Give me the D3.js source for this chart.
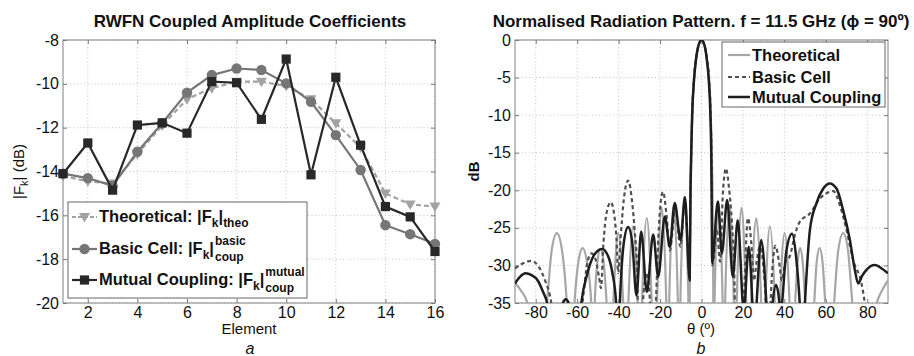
<!DOCTYPE html>
<html>
<head>
<meta charset="utf-8">
<script src="https://cdn.jsdelivr.net/npm/d3@7"></script>
<style>
body { margin: 0; background: #fff; }
svg { font-family: Arial, "Liberation Sans", Helvetica, sans-serif; }
.grid { stroke: #c4c4c4; stroke-width: 1; stroke-dasharray: 1,2.5; }
.tick text { font-size: 16px; fill: #111; }
.tick line { stroke: #777; }
</style>
</head>
<body>
<svg id="chart" width="914" height="356"></svg>
<script>
// ---- panel a : coupled amplitude coefficients (dB) ----
var elements = [1, 2, 3, 4, 5, 6, 7, 8, 9, 10, 11, 12, 13, 14, 15, 16];
var theoCoef   = [-14.2, -14.45, -14.55, -13.2, -11.9, -10.7, -10.2, -9.9, -9.9, -10.1, -10.7, -11.8, -12.9, -15.0, -15.5, -15.6];
var basicCoef  = [-14.1, -14.3, -14.65, -13.1, -11.8, -10.4, -9.6, -9.3, -9.37, -9.98, -10.82, -12.34, -13.93, -16.45, -16.86, -17.3];
var mutualCoef = [-14.1, -12.7, -14.85, -11.88, -11.78, -12.25, -9.9, -9.95, -11.62, -8.87, -14.15, -9.7, -12.8, -15.6, -16.07, -17.65];
var elementTicks = [2, 4, 6, 8, 10, 12, 14, 16];
var coefTicks = [-20, -18, -16, -14, -12, -10, -8];

// ---- panel b : radiation pattern, [theta (deg), dB] ----
var thetaTicks = [-80, -60, -40, -20, 0, 20, 40, 60, 80];
var dbTicks = [-35, -30, -25, -20, -15, -10, -5, 0];

var theoPattern = [
  [-90,-32.3],[-87,-33.4],[-84,-35],[-80,-45],
  [-74.6,-35],[-72.3,-28],[-69.8,-25.7],[-67.3,-28],[-65,-35],[-63.2,-45],
  [-61.3,-35],[-59.4,-29.5],[-57.4,-27.7],[-55.3,-29.5],[-53.2,-35],[-52.4,-45],
  [-51.5,-35],[-50.2,-29.5],[-48.8,-27.8],[-47.3,-29.5],[-45.8,-35],[-44.2,-45],
  [-42.6,-35],[-40.2,-25.7],[-37.8,-35],[-36.5,-45],
  [-35.3,-35],[-33,-24.8],[-30.8,-35],[-29.7,-45],
  [-28.7,-35],[-26.4,-23.7],[-24,-35],[-22.8,-45],
  [-21.5,-35],[-19.2,-22.3],[-17,-35],[-16.3,-45],
  [-15.6,-35],[-13.5,-22],[-11.4,-35],[-10.8,-45],
  [-10.2,-35],[-8.2,-21.5],[-6.3,-35],[-5.9,-45],
  [-5.6,-30],[-5.3,-20],[-4.9,-15],[-4.5,-10],[-3.6,-5],[-2.7,-2.6],[-1.7,-1],[0,0],
  [1.7,-1],[2.7,-2.6],[3.6,-5],[4.5,-10],[4.9,-15],[5.3,-20],[5.6,-30],[5.9,-45],
  [6.3,-35],[8.2,-21.5],[10.2,-35],[10.8,-45],
  [11.4,-35],[13.5,-22],[15.6,-35],[16.3,-45],
  [17,-35],[19.3,-22.3],[21.6,-35],[22.8,-45],
  [24,-35],[26.4,-23.7],[28.8,-35],[29.7,-45],
  [30.8,-35],[33,-24.8],[35.4,-35],[36.5,-45],
  [37.8,-35],[40.1,-25.7],[42.5,-35],[43.8,-45],
  [45.2,-35],[46.4,-29.5],[47.6,-27.7],[48.8,-29.5],[50.1,-35],[52.2,-45],
  [54.4,-35],[55.6,-29.5],[57,-27.7],[58.4,-29.5],[59.7,-35],[62,-45],
  [64,-35],[66,-28],[68.4,-25.7],[70.7,-28],[72.8,-35],[78,-45],
  [84.5,-35],[87,-33.4],[90,-32]
];

var basicPattern = [
  [-90,-30.4],[-86,-29.7],[-82,-29.4],[-78.5,-30.2],[-75.5,-32],[-72.5,-35],[-69,-45],
  [-57.5,-35],[-55,-29.5],[-53,-28.4],[-51,-29.3],[-49.5,-31.5],[-48.5,-33],
  [-47.3,-27],[-45.8,-23],[-43.8,-21.6],[-42,-23.5],[-41,-26.6],[-40.2,-31],
  [-39.2,-27],[-37.4,-21],[-35.4,-18.7],[-33.5,-21.5],[-32.2,-25.5],[-31,-31],[-30.2,-45],
  [-28.3,-35],[-26.5,-31],[-24.8,-35],[-23.3,-45],
  [-22,-35],[-20.4,-24],[-18.6,-20.2],[-16.8,-23.5],[-15.3,-28],
  [-12.6,-22.5],[-10.2,-27.5],[-8,-21.5],[-5.8,-31],
  [-5.3,-20],[-4.9,-15],[-4.5,-10],[-3.6,-5],[-2.7,-2.6],[-1.7,-1],[0,0],
  [1.7,-1],[2.7,-2.6],[3.6,-5],[4.4,-10],[4.8,-15],[5.0,-22],[5.3,-30],
  [7.3,-25],[9,-29.5],[10.3,-20.5],[11.8,-17.1],[13.3,-19.8],[14.6,-24],[15.8,-31],[16.8,-45],
  [20.3,-35],[22.4,-23.7],[24.3,-28],[25.3,-32],[26.6,-29.5],[28.2,-27.5],[29.8,-30],[31,-35],[32,-45],
  [33.3,-35],[35.7,-27.4],[37.4,-29.5],[38.8,-32],[40.5,-29.5],[42.6,-28.8],[45,-26],[47.4,-24.2],
  [52.3,-23.1],[57.1,-21.1],[61.9,-20.2],[63.6,-20.1],[66.8,-22],[70,-25.3],[73.2,-29.3],[77.2,-32.4],
  [78.8,-35],[82,-45],[90,-45]
];

var mutualPattern = [
  [-90,-32.4],[-87.5,-31.5],[-85,-31.05],[-82,-31.3],[-79,-32],[-76.5,-33.5],[-74.5,-35],[-70.5,-45],
  [-66.9,-35],[-65.5,-34.5],[-64.1,-35],[-61,-45],
  [-58,-35],[-55,-31],[-52,-28.7],[-48,-27.8],[-45,-28.8],[-43,-31],[-41.2,-35],[-40.3,-42],
  [-39.4,-35],[-37.5,-27],[-35.4,-24.9],[-33.4,-27],[-31.4,-34],
  [-29.1,-25.5],[-26.4,-33.5],[-23.3,-25.9],[-20.9,-31.5],[-17.7,-23.5],[-15.3,-27.5],
  [-12.9,-21.7],[-10.1,-26.6],[-8,-20.9],[-5.7,-32],
  [-5.3,-20],[-4.9,-14],[-4.5,-10],[-3.6,-5.3],[-2.7,-2.7],[-1.7,-1],[0,0],
  [1.7,-1],[2.6,-2.7],[3.5,-5.3],[4.3,-10],[4.7,-15],[4.95,-22],[5.1,-29.7],
  [7.9,-21.5],[9.8,-28.4],[12.4,-21.3],[15.1,-31.5],[17.5,-24],[20.4,-36],[22.8,-27.5],[25.5,-38],
  [28.8,-26.6],[31.3,-35],[32.5,-42],[34.3,-35],[36,-32.6],[37.6,-35],[38.2,-37],[38.9,-35],
  [41,-28],[43.7,-25.8],[45.7,-29],[47.4,-35],[48.6,-42],[49.9,-35],
  [52.3,-25.3],[55.5,-21.7],[58.7,-19.8],[61.9,-19.1],[65.2,-19.8],[68.3,-22.6],[71.6,-26.6],
  [74,-30.6],[75.6,-32.4],[77.5,-31.4],[79.6,-30.6],[83.6,-29.95],[87,-30.4],[90,-31.05]
];

var svg = d3.select('#chart');
var top0 = 40, bottom0 = 303;
var plain = function(d) { return String(d); };   // hyphen minus, like the original

// dotted grid, inward ticks on all four sides, grey box
function drawFrame(g, x, y, xTicks, yTicks) {
  var x0 = x.range()[0], x1 = x.range()[1];

  g.append('g').selectAll('line').data(xTicks).enter().append('line')
    .attr('class', 'grid')
    .attr('x1', function(d) { return x(d); }).attr('x2', function(d) { return x(d); })
    .attr('y1', top0).attr('y2', bottom0);
  g.append('g').selectAll('line').data(yTicks).enter().append('line')
    .attr('class', 'grid')
    .attr('x1', x0).attr('x2', x1)
    .attr('y1', function(d) { return y(d); }).attr('y2', function(d) { return y(d); });

  g.append('g').attr('transform', 'translate(0,' + bottom0 + ')')
    .call(d3.axisBottom(x).tickValues(xTicks).tickFormat(plain).tickSizeInner(-4).tickSizeOuter(0).tickPadding(4))
    .call(function(a) { a.select('.domain').remove(); });
  g.append('g').attr('transform', 'translate(0,' + top0 + ')')
    .call(d3.axisTop(x).tickValues(xTicks).tickSizeInner(-4).tickSizeOuter(0).tickFormat(''))
    .call(function(a) { a.select('.domain').remove(); });
  g.append('g').attr('transform', 'translate(' + x0 + ',0)')
    .call(d3.axisLeft(y).tickValues(yTicks).tickFormat(plain).tickSizeInner(-4).tickSizeOuter(0).tickPadding(4))
    .call(function(a) { a.select('.domain').remove(); });
  g.append('g').attr('transform', 'translate(' + x1 + ',0)')
    .call(d3.axisRight(y).tickValues(yTicks).tickSizeInner(-4).tickSizeOuter(0).tickFormat(''))
    .call(function(a) { a.select('.domain').remove(); });

  g.append('rect')
    .attr('x', x0).attr('y', top0)
    .attr('width', x1 - x0).attr('height', bottom0 - top0)
    .attr('fill', 'none').attr('stroke', '#808080').attr('stroke-width', 1);
}

// ===================== panel a =====================
var xa = d3.scaleLinear().domain([1, 16]).range([63, 435]);
var ya = d3.scaleLinear().domain([-20, -8]).range([bottom0, top0]);
var ga = svg.append('g');
drawFrame(ga, xa, ya, elementTicks, coefTicks);

var tri = 'M-5.5,-4L5.5,-4L0,5.5Z';
var seriesA = [
  { vals: theoCoef,   color: '#a2a2a2', dash: '5,3', marker: 'tri' },
  { vals: basicCoef,  color: '#767676', dash: null,  marker: 'circle' },
  { vals: mutualCoef, color: '#282828', dash: null,  marker: 'square' }
];

function addMarker(sel, type, color) {
  if (type === 'tri') {
    sel.append('path').attr('d', tri).attr('fill', color);
  } else if (type === 'circle') {
    sel.append('circle').attr('r', 5.2).attr('fill', color);
  } else {
    sel.append('rect').attr('x', -4.6).attr('y', -4.6).attr('width', 9.2).attr('height', 9.2).attr('fill', color);
  }
}

var lineA = d3.line()
  .x(function(d, i) { return xa(elements[i]); })
  .y(function(d) { return ya(d); });

seriesA.forEach(function(s) {
  ga.append('path')
    .attr('d', lineA(s.vals))
    .attr('fill', 'none')
    .attr('stroke', s.color)
    .attr('stroke-width', 2.2)
    .attr('stroke-dasharray', s.dash);
  var m = ga.append('g').selectAll('g').data(s.vals).enter().append('g')
    .attr('transform', function(d, i) { return 'translate(' + xa(elements[i]) + ',' + ya(d) + ')'; });
  addMarker(m, s.marker, s.color);
});

// legend a
var lega = ga.append('g');
lega.append('rect').attr('x', 68).attr('y', 202).attr('width', 239).attr('height', 96)
  .attr('fill', '#fff').attr('stroke', '#666').attr('stroke-width', 1);

var legRows = [
  { label: 'Theoretical: |F', sup: null, sub: 'theo', y: 222, my: 217 },
  { label: 'Basic Cell: |F', sup: 'basic', sub: 'coup', y: 254, my: 249 },
  { label: 'Mutual Coupling: |F', sup: 'mutual', sub: 'coup', y: 285, my: 280 }
];
legRows.forEach(function(r, i) {
  var s = seriesA[i];
  lega.append('line').attr('x1', 72).attr('x2', 97).attr('y1', r.my).attr('y2', r.my)
    .attr('stroke', s.color).attr('stroke-width', 2.2).attr('stroke-dasharray', s.dash ? '4,2' : null);
  addMarker(lega.append('g').attr('transform', 'translate(84.5,' + r.my + ')'), s.marker, s.color);

  var t = lega.append('text').attr('x', 99).attr('y', r.y)
    .attr('font-size', 16.5).attr('font-weight', 'bold').attr('fill', '#111');
  t.append('tspan').text(r.label);
  t.append('tspan').attr('font-size', 12).attr('dy', 5).text('k');
  t.append('tspan').attr('dy', -5).text('|');
  if (r.sup === null) {
    t.append('tspan').attr('font-size', 12).attr('dy', 5).text(r.sub);
  } else {
    var w = t.node().getComputedTextLength();
    lega.append('text').attr('x', 99 + w + 1).attr('y', r.y - 9)
      .attr('font-size', 12).attr('font-weight', 'bold').attr('fill', '#111').text(r.sup);
    lega.append('text').attr('x', 99 + w + 1).attr('y', r.y + 7)
      .attr('font-size', 12).attr('font-weight', 'bold').attr('fill', '#111').text(r.sub);
  }
});

ga.append('text').attr('x', 250).attr('y', 27).attr('text-anchor', 'middle')
  .attr('font-size', 17).attr('font-weight', 'bold').attr('fill', '#111')
  .text('RWFN Coupled Amplitude Coefficients');
ga.append('text').attr('x', 249).attr('y', 334).attr('text-anchor', 'middle')
  .attr('font-size', 15).attr('fill', '#111').text('Element');
ga.append('text').attr('x', 250).attr('y', 354).attr('text-anchor', 'middle')
  .attr('font-size', 16).attr('font-style', 'italic').attr('fill', '#111').text('a');

var yla = ga.append('text').attr('transform', 'translate(24,171.5) rotate(-90)')
  .attr('text-anchor', 'middle').attr('font-size', 15).attr('fill', '#111');
yla.append('tspan').text('|F');
yla.append('tspan').attr('font-size', 11).attr('dy', 4).text('k');
yla.append('tspan').attr('dy', -4).text('| (dB)');

// ===================== panel b =====================
var xb = d3.scaleLinear().domain([-90, 90]).range([515, 888]);
var yb = d3.scaleLinear().domain([-35, 0]).range([bottom0, top0]);
var gb = svg.append('g');
drawFrame(gb, xb, yb, thetaTicks, dbTicks);

svg.append('clipPath').attr('id', 'clipb').append('rect')
  .attr('x', 515).attr('y', top0).attr('width', 373).attr('height', bottom0 - top0);

var lineB = d3.line()
  .curve(d3.curveMonotoneX)
  .x(function(d) { return xb(d[0]); })
  .y(function(d) { return yb(d[1]); });

var seriesB = [
  { pts: theoPattern,   color: '#a6a6a6', dash: null,  width: 2.2, name: 'Theoretical' },
  { pts: basicPattern,  color: '#505050', dash: '4,3', width: 2.2, name: 'Basic Cell' },
  { pts: mutualPattern, color: '#1e1e1e', dash: null,  width: 2.5, name: 'Mutual Coupling' }
];
var plotb = gb.append('g').attr('clip-path', 'url(#clipb)');
seriesB.forEach(function(s) {
  plotb.append('path')
    .attr('d', lineB(s.pts))
    .attr('fill', 'none')
    .attr('stroke', s.color)
    .attr('stroke-width', s.width)
    .attr('stroke-dasharray', s.dash)
    .attr('stroke-linejoin', 'round');
});

// legend b
var legb = gb.append('g');
legb.append('rect').attr('x', 722).attr('y', 42).attr('width', 163).attr('height', 65)
  .attr('fill', '#fff').attr('stroke', '#666').attr('stroke-width', 1);
[55, 77, 97].forEach(function(ly, i) {
  var s = seriesB[i];
  legb.append('line').attr('x1', 728).attr('x2', 750).attr('y1', ly).attr('y2', ly)
    .attr('stroke', s.color).attr('stroke-width', s.width).attr('stroke-dasharray', s.dash);
  legb.append('text').attr('x', 752).attr('y', ly + 6)
    .attr('font-size', 16.5).attr('font-weight', 'bold').attr('fill', '#111').text(s.name);
});

gb.append('text').attr('x', 701).attr('y', 27).attr('text-anchor', 'middle')
  .attr('font-size', 17).attr('font-weight', 'bold').attr('fill', '#111')
  .text('Normalised Radiation Pattern. f = 11.5 GHz (\u03D5 = 90\u00BA)');
gb.append('text').attr('x', 701).attr('y', 334).attr('text-anchor', 'middle')
  .attr('font-size', 15).attr('fill', '#111').text('\u03B8 (\u00BA)');
gb.append('text').attr('x', 701).attr('y', 354).attr('text-anchor', 'middle')
  .attr('font-size', 16).attr('font-style', 'italic').attr('fill', '#111').text('b');
gb.append('text').attr('transform', 'translate(479,171.5) rotate(-90)')
  .attr('text-anchor', 'middle').attr('font-size', 15).attr('font-weight', 'bold')
  .attr('fill', '#111').text('dB');
</script>
</body>
</html>
